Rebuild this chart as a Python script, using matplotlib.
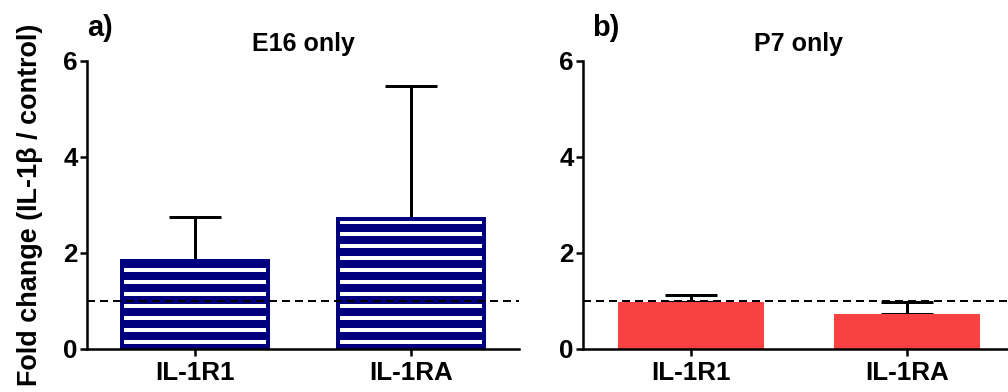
import numpy as np
import matplotlib
matplotlib.use("Agg")
from matplotlib import pyplot as plt

plt.rcParams['font.family'] = ['Liberation Sans', 'DejaVu Sans']
plt.rcParams['font.weight'] = 'bold'
plt.rcParams['hatch.linewidth'] = 4

genes = ['IL-1R1', 'IL-1RA']
e16_mean = [1.84, 2.71]
e16_err = [0.90, 2.77]      # upper error only
p7_mean = [0.97, 0.72]
p7_err = [0.15, 0.26]
panels = ['a)', 'b)']
titles = ['E16 only', 'P7 only']
control = 1.0

navy = '#00007f'
red = '#f84242'

fig = plt.figure(figsize=(1008/72, 392/72), dpi=72)
ax1 = fig.add_axes([87/1008, 43/392, 432/1008, 288/392])
ax2 = fig.add_axes([583/1008, 43/392, 432/1008, 288/392])

x = np.arange(len(genes))
w = 0.68

# a) striped navy bars
ax1.bar(x, e16_mean, w, color=navy, edgecolor='white', hatch='-', linewidth=0, zorder=2)
ax1.bar(x, e16_mean, w, fill=False, edgecolor=navy, linewidth=4, zorder=2)
ax1.errorbar(x, e16_mean, yerr=[np.zeros(2), e16_err], fmt='none', ecolor='black',
             elinewidth=3, capsize=26, capthick=3, zorder=1)

# b) red bars
ax2.bar(x, p7_mean, w, color=red, linewidth=0, zorder=2)
ax2.errorbar(x, p7_mean, yerr=[np.zeros(2), p7_err], fmt='none', ecolor='black',
             elinewidth=3, capsize=26, capthick=3, zorder=1)

for ax, lab, t, dx in zip([ax1, ax2], panels, titles, [0.0, 0.02]):
    ax.axhline(control, color='black', linestyle=(0, (4, 2.5)), linewidth=2, zorder=3)
    ax.set_xlim(-0.5, 1.5)
    ax.set_ylim(0, 6)
    ax.set_yticks([0, 2, 4, 6])
    ax.set_xticks(x)
    ax.set_xticklabels(genes)
    for s in ['top', 'right']:
        ax.spines[s].set_visible(False)
    for s in ['left', 'bottom']:
        ax.spines[s].set_linewidth(2.5)
    ax.tick_params(width=2.5, length=7, labelsize=26, pad=2)
    ax.tick_params(axis='x', pad=5)
    ax.set_title(t, fontsize=25, fontweight='bold', pad=10)
    ax.text(dx, 1.115, lab, transform=ax.transAxes, fontsize=29, fontweight='bold',
            ha='left', va='center')

ax1.set_ylabel('Fold change (IL-1\u03b2 / control)', fontsize=27, fontweight='bold', labelpad=20)

fig.savefig('out.png', dpi=72)
